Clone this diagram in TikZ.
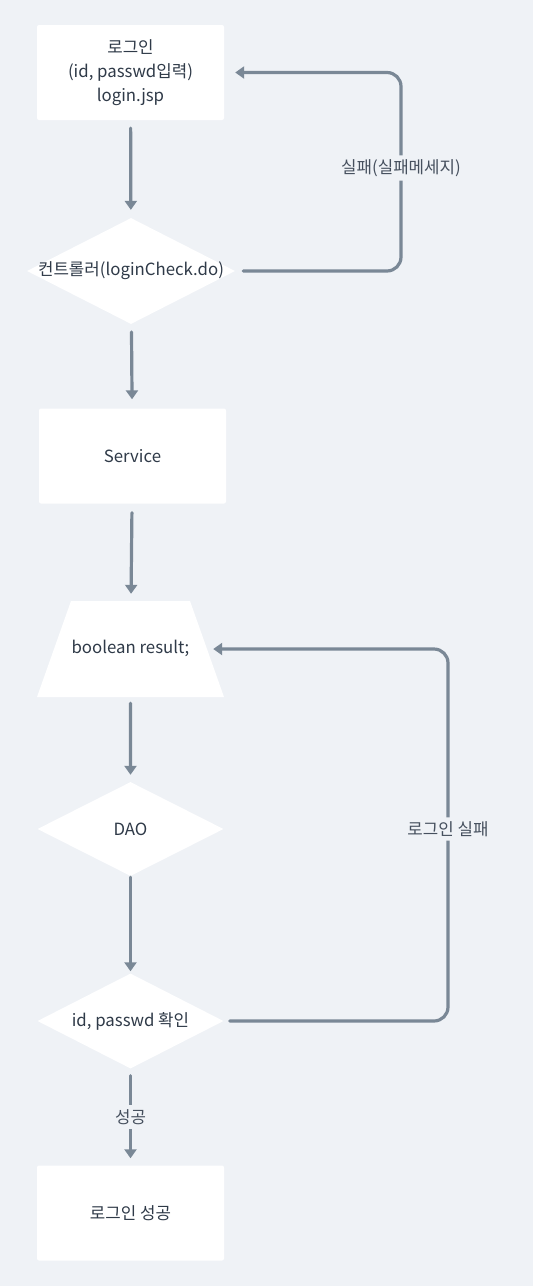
\documentclass[tikz,border=0pt]{standalone}
\usepackage{fontspec}
\setmainfont{Noto Sans CJK KR}
\usetikzlibrary{arrows.meta,shapes.geometric}
\definecolor{bgcol}{RGB}{239,242,246}
\definecolor{edgecol}{RGB}{122,136,150}
\definecolor{txtcol}{RGB}{47,58,72}
\definecolor{lblcol}{RGB}{70,80,94}
\begin{document}
\begin{tikzpicture}[x=1pt, y=-1pt,
		font=\fontsize{16.8}{24}\selectfont, text=txtcol,
		box/.style={rectangle, fill=white, rounded corners=2pt, inner sep=0pt,
			minimum width=187pt, minimum height=95pt, align=center},
		dia/.style={diamond, fill=white, inner sep=0pt},
		edge/.style={draw=edgecol, line width=3.2pt, line cap=round,
			-{Triangle[width=12pt,length=9pt]}},
		lbl/.style={fill=bgcol, text=lblcol, inner sep=4pt}]
		%background
		\fill[bgcol] (0,0) rectangle (533,1286);
		\useasboundingbox (0,0) rectangle (533,1286);
		
		%nodes
		\node[box] (login) at (130.5, 72.5){로그인\\(id, passwd입력)\\login.jsp};
		\node[dia, minimum width=208pt, minimum height=106pt,
			label={center:컨트롤러(loginCheck.do)}] (ctrl) at (131, 271){};
		\node[box] (service) at (132.5, 456){Service};
		\node[trapezium, fill=white, inner xsep=0pt, inner ysep=40pt,
			text height=12pt, text depth=4pt, trapezium stretches body=true,
			trapezium left angle=70.5, trapezium right angle=70.5,
			minimum width=187pt] (result) at (130.5, 649){boolean result;};
		\node[dia, minimum width=186pt, minimum height=94pt,
			label={center:DAO}] (dao) at (130.5, 829){};
		\node[dia, minimum width=186pt, minimum height=95pt,
			label={center:id, passwd 확인}] (check) at (130.5, 1021){};
		\node[box] (success) at (130.5, 1213){로그인 성공};
		
		%loop points
		\coordinate (loopA) at (401, 168);
		\coordinate (loopB) at (448, 829);
		
		%main flow
		\draw[edge, shorten <=8pt, shorten >=8pt] (login) -- (ctrl);
		\draw[edge, shorten <=8pt, shorten >=9pt] (ctrl) -- (service);
		\draw[edge, shorten <=9pt, shorten >=7pt] (service) -- (result);
		\draw[edge, shorten <=6pt, shorten >=7pt] (result) -- (dao);
		\draw[edge, shorten <=1pt, shorten >=2pt] (dao) -- (check);
		\draw[edge, shorten <=7pt, shorten >=7pt] (check) -- node[lbl]{성공} (success);
		
		%failure loops
		\draw[edge, rounded corners=14pt, shorten <=8pt, shorten >=11pt]
			(ctrl.east) -| (loopA) node[lbl]{실패(실패메세지)} |- (login.east);
		\draw[edge, rounded corners=14pt, shorten <=6pt, shorten >=6pt]
			(check.east) -| (loopB) node[lbl]{로그인 실패} |- (result.east);
\end{tikzpicture}
\end{document}
